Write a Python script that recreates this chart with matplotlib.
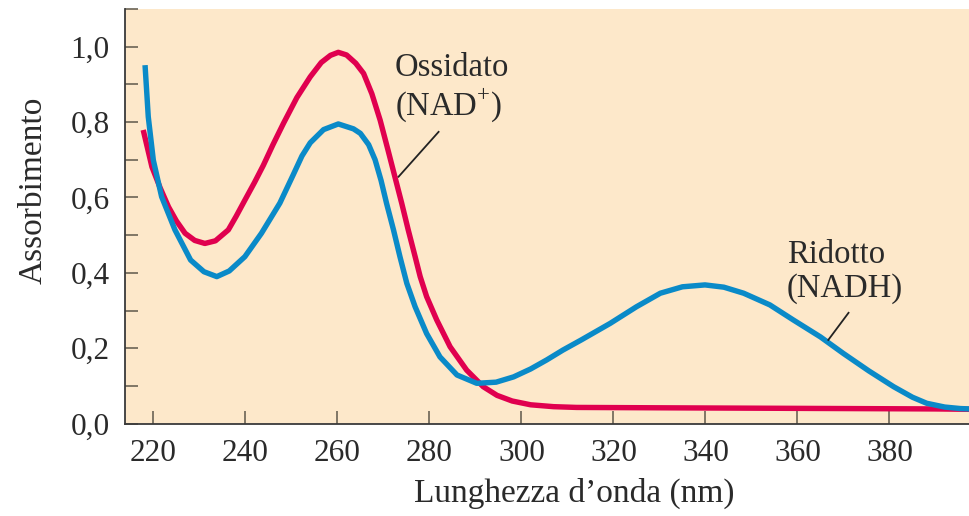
#!/usr/bin/env python3

import matplotlib
matplotlib.use("Agg")
import matplotlib.pyplot as plt
from matplotlib.ticker import MultipleLocator, FuncFormatter


# spettro NAD+ (ossidato)
nad_x = [217.8, 219.7, 221.5, 223.3, 225.0, 226.9, 229.0, 231.2, 233.5, 236.3,
         238.0, 239.9, 242.0, 243.9, 246.0, 248.3, 251.2, 254.1, 256.5, 258.5,
         260.2, 262.0, 264.0, 265.7, 267.5, 269.3, 271.0, 272.5, 274.0, 275.4,
         276.9, 278.0, 279.4, 281.6, 284.5, 288.1, 291.7, 294.7, 298.0, 302.0,
         307.0, 312.0, 330.0, 350.0, 370.0, 390.0, 397.5]
nad_y = [0.779, 0.681, 0.625, 0.575, 0.538, 0.505, 0.486, 0.478, 0.485, 0.514,
         0.550, 0.593, 0.640, 0.685, 0.740, 0.797, 0.865, 0.920, 0.958, 0.977,
         0.985, 0.978, 0.956, 0.929, 0.875, 0.805, 0.726, 0.655, 0.584, 0.514,
         0.443, 0.390, 0.337, 0.275, 0.204, 0.142, 0.098, 0.075, 0.060, 0.050,
         0.045, 0.043, 0.042, 0.041, 0.040, 0.039, 0.038]

# spettro NADH (ridotto)
nadh_x = [218.2, 218.9, 220.0, 221.8, 224.7, 228.1, 231.0, 233.8, 236.5, 239.9,
          243.5, 247.5, 250.4, 252.3, 254.1, 257.0, 260.2, 263.5, 265.0, 266.8,
          268.2, 269.5, 270.7, 272.2, 273.6, 275.1, 276.9, 279.4, 282.3, 286.0,
          290.3, 294.5, 298.3, 302.0, 305.5, 309.0, 313.0, 319.3, 325.0, 330.2,
          335.0, 339.9, 344.0, 348.3, 354.0, 359.1, 365.0, 370.0, 375.5, 380.9,
          385.0, 388.1, 392.0, 395.4, 397.5]
nadh_y = [0.951, 0.814, 0.699, 0.602, 0.514, 0.434, 0.403, 0.390, 0.405, 0.443,
          0.505, 0.585, 0.660, 0.710, 0.745, 0.780, 0.795, 0.782, 0.770, 0.740,
          0.700, 0.645, 0.584, 0.514, 0.443, 0.372, 0.310, 0.239, 0.177, 0.129,
          0.107, 0.110, 0.124, 0.145, 0.169, 0.195, 0.222, 0.266, 0.310, 0.346,
          0.363, 0.368, 0.362, 0.346, 0.315, 0.275, 0.230, 0.186, 0.140, 0.098,
          0.070, 0.054, 0.044, 0.040, 0.039]

xticks = [220, 240, 260, 280, 300, 320, 340, 360, 380]
yticks = [0.0, 0.2, 0.4, 0.6, 0.8, 1.0]

# etichette e linee di richiamo
lab_ox = "Ossidato\n(NAD$^{+}$)"
lab_rid = "Ridotto\n(NADH)"
lead_ox_x = [282.0, 273.3]
lead_ox_y = [0.774, 0.655]
lead_rid_x = [371.1, 366.7]
lead_rid_y = [0.294, 0.222]

plt.rcParams['font.family'] = ['Liberation Serif', 'DejaVu Serif']
plt.rcParams['mathtext.fontset'] = 'custom'
plt.rcParams['mathtext.rm'] = 'Liberation Serif'

fig = plt.figure(figsize=(9.7, 5.16), dpi=100)
ax = fig.add_axes([0.1289, 0.179, 0.8711, 0.8036])
ax.set_facecolor('#fde8ca')

ax.plot(nad_x, nad_y, color='#e0004f', lw=3.9, solid_capstyle='butt',
        solid_joinstyle='round', zorder=3)
ax.plot(nadh_x, nadh_y, color='#0a8ac8', lw=3.9, solid_capstyle='butt',
        solid_joinstyle='round', zorder=4)

ax.plot(lead_ox_x, lead_ox_y, color='#222222', lw=1.3, zorder=5)
ax.plot(lead_rid_x, lead_rid_y, color='#222222', lw=1.3, zorder=5)

ax.text(272.5, 0.889, lab_ox, fontsize=23.5, color='#2a2a2a',
        ha='left', va='center', linespacing=1.12)
ax.text(357.7, 0.403, lab_rid, fontsize=23.5, color='#2a2a2a',
        ha='left', va='center', linespacing=1.12)

ax.set_xlim(213.85, 397.5)
ax.set_ylim(0, 1.10)

ax.set_xticks(xticks)
ax.set_yticks(yticks)
ax.yaxis.set_minor_locator(MultipleLocator(0.1))
ax.yaxis.set_major_formatter(FuncFormatter(lambda v, p: '{:.1f}'.format(v).replace('.', ',')))

ax.tick_params(which='both', direction='in', length=9.5, width=1.2,
               color='#6b6355', labelsize=22.5, labelcolor='#2a2a2a', pad=11)

for s in ['top', 'right']:
    ax.spines[s].set_visible(False)
for s in ['left', 'bottom']:
    ax.spines[s].set_color('#3a3a3a')
    ax.spines[s].set_linewidth(1.3)

ax.set_xlabel("Lunghezza d\u2019onda (nm)", fontsize=24, color='#2a2a2a')
ax.set_ylabel("Assorbimento", fontsize=24, color='#2a2a2a')
ax.xaxis.set_label_coords(0.532, -0.13)
ax.yaxis.set_label_coords(-0.09, 0.563)

fig.savefig('out.png', dpi=100)
